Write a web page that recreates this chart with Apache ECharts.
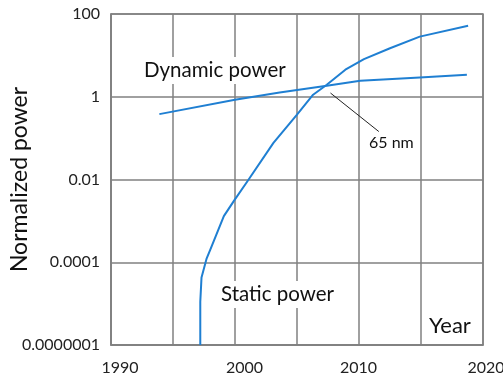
<!DOCTYPE html>
<html>
<head>
<meta charset="utf-8">
<script src="https://cdn.jsdelivr.net/npm/echarts@6/dist/echarts.min.js"></script>
<style>html,body{margin:0;padding:0;background:#fff}#c{width:503px;height:376px}</style>
</head>
<body>
<div id="c"></div>
<script>
var dynamicYears = [1993.9, 2000.0, 2003.6, 2007.4, 2010.1, 2014.9, 2018.7];
var dynamicValues = [0.38, 0.85, 1.27, 1.84, 2.43, 2.92, 3.39];
var staticYears = [1997.2, 1997.2, 1997.3, 1997.7, 1998.0, 1999.1, 1999.9, 2001.1, 2003.1, 2005.0, 2006.3, 2007.4, 2008.9, 2010.4, 2012.5, 2014.9, 2018.8];
var staticValues = [0.000001, 0.000011, 0.000043, 0.00012, 0.0002, 0.0013, 0.003, 0.01, 0.077, 0.37, 1.12, 1.95, 4.5, 8.1, 14.9, 28.4, 52];
var xTickLabels = ['1990', '2000', '2010', '2020'];
var yTickLabels = ['0.0000001', '0.0001', '0.01', '1', '100'];
var arrowFrom = [2011.6, 0.144];
var arrowTo = [2007.7, 1.23];

var FONT = 'Lato, "Open Sans", sans-serif';
var BLUE = '#1f7fd2';
var GRID = '#808080';

function pairs(xs, ys) { return xs.map(function (x, i) { return [x, ys[i]]; }); }

// small horizontal nudges of the year labels, as in the original figure
var xLabelStyles = {
  l0: { padding: [0, 0, 0, 18] },
  l1: { padding: [0, 0, 0, 19] },
  l2: { padding: [0, 1, 0, 0] },
  l3: { padding: [0, 0, 0, 6] }
};
Object.keys(xLabelStyles).forEach(function (k) {
  xLabelStyles[k].fontSize = 16; xLabelStyles[k].fontFamily = FONT; xLabelStyles[k].color = '#222';
});

var chart = echarts.init(document.getElementById('c'), null, { renderer: 'canvas' });
chart.setOption({
  animation: false,
  backgroundColor: '#fff',
  grid: { left: 111, right: 20, top: 14, bottom: 31, show: true, borderColor: GRID, borderWidth: 1.5, outerBoundsMode: 'none', containLabel: false },
  xAxis: {
    type: 'value', min: 1990, max: 2020, interval: 5,
    axisLine: { show: true, lineStyle: { color: GRID, width: 1.5 } },
    axisTick: { show: false },
    splitLine: { show: true, lineStyle: { color: GRID, width: 1.5 } },
    axisLabel: {
      color: '#222', fontSize: 16, fontFamily: FONT, margin: 15,
      rich: xLabelStyles,
      formatter: function (v) { var i = xTickLabels.indexOf(String(Math.round(v))); return i >= 0 ? '{l' + i + '|' + xTickLabels[i] + '}' : ''; }
    }
  },
  yAxis: {
    type: 'log', logBase: 100, min: 0.000001, max: 100, interval: 1,
    name: 'Normalized power', nameLocation: 'middle', nameGap: 80, nameMoveOverlap: false,
    nameTextStyle: { fontSize: 23, color: '#111', fontFamily: FONT },
    axisLine: { show: true, lineStyle: { color: GRID, width: 1.5 } },
    axisTick: { show: false },
    splitLine: { show: true, lineStyle: { color: GRID, width: 1.5 } },
    axisLabel: {
      color: '#222', fontSize: 16, fontFamily: FONT, margin: 11,
      formatter: function (v) { var i = Math.round(Math.log10(v) / 2) + 3; return yTickLabels[i] || ''; }
    }
  },
  series: [
    {
      name: 'Dynamic power', type: 'line', data: pairs(dynamicYears, dynamicValues),
      showSymbol: false, lineStyle: { color: BLUE, width: 2 }, z: 3,
      markLine: {
        silent: true, symbol: ['none', 'arrow'], symbolSize: [0, 7], label: { show: false },
        lineStyle: { color: '#222', width: 1, type: 'solid' },
        data: [[{ coord: arrowFrom }, { coord: arrowTo }]]
      }
    },
    {
      name: 'Static power', type: 'line', data: pairs(staticYears, staticValues),
      showSymbol: false, lineStyle: { color: BLUE, width: 2 }, z: 3
    }
  ],
  graphic: [
    { type: 'text', left: 139, top: 57, z: 10, style: { text: 'Dynamic power', fontSize: 20.5, fontFamily: FONT, fill: '#111', backgroundColor: '#fff', padding: [3, 5] } },
    { type: 'text', left: 216, top: 281, z: 10, style: { text: 'Static power', fontSize: 20.5, fontFamily: FONT, fill: '#111', backgroundColor: '#fff', padding: [3, 5] } },
    { type: 'text', left: 369, top: 135, z: 10, style: { text: '65 nm', fontSize: 16, fontFamily: FONT, fill: '#111' } },
    { type: 'text', left: 425, top: 313, z: 10, style: { text: 'Year', fontSize: 22, fontFamily: FONT, fill: '#111', backgroundColor: '#fff', padding: [2, 4] } }
  ]
});
</script>
</body>
</html>
